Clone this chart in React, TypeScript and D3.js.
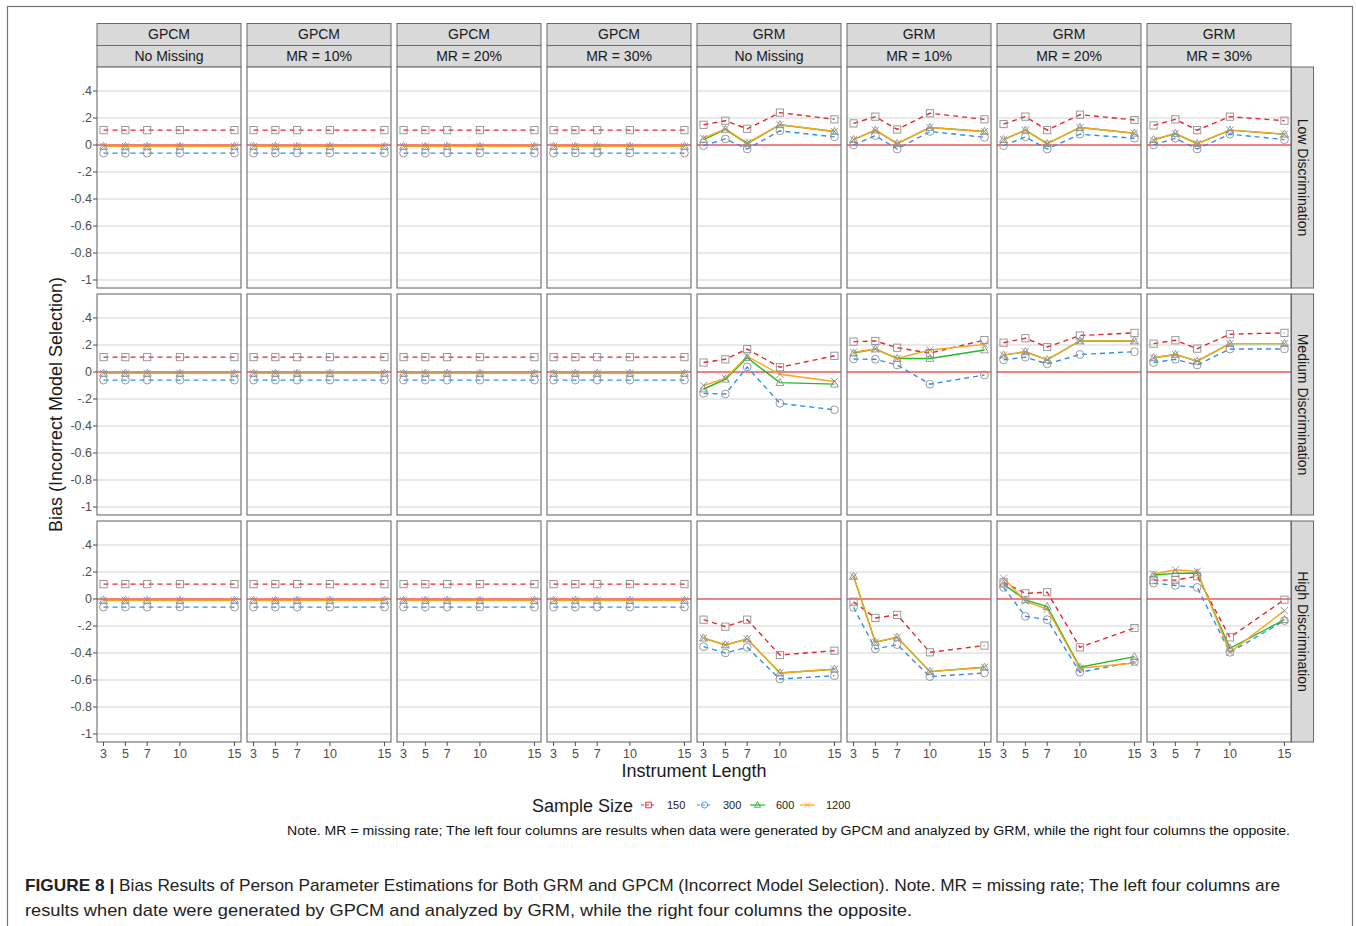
import React from 'react';
import * as d3 from 'd3';

const lengths = [3, 5, 7, 10, 15];
const sampleSizes = ['150', '300', '600', '1200'];
const sizeColors = ['#e3262b', '#2f8ff0', '#22bb22', '#ffa31a'];
const sizeDashed = [true, true, false, false];
const generators = ['GPCM', 'GPCM', 'GPCM', 'GPCM', 'GRM', 'GRM', 'GRM', 'GRM'];
const missingLabels = ['No Missing', 'MR = 10%', 'MR = 20%', 'MR = 30%', 'No Missing', 'MR = 10%', 'MR = 20%', 'MR = 30%'];
const discrimLabels = ['Low Discrimination', 'Medium Discrimination', 'High Discrimination'];
const yTicks = [0.4, 0.2, 0, -0.2, -0.4, -0.6, -0.8, -1];
const yTickLabels = ['.4', '.2', '0', '-.2', '-0.4', '-0.6', '-0.8', '-1'];

// data generated by GPCM, analysed by GRM (same in every row)
const gpcm150 = [0.11, 0.11, 0.11, 0.11, 0.11];
const gpcm300 = [-0.06, -0.06, -0.06, -0.06, -0.06];
const gpcm600 = [-0.01, -0.01, -0.01, -0.01, -0.01];
const gpcm1200 = [-0.01, -0.01, -0.01, -0.01, -0.01];
const gpcmSeries = [gpcm150, gpcm300, gpcm600, gpcm1200];

// data generated by GRM, analysed by GPCM: [150, 300, 600, 1200]
const grmLowNoMiss = [
  [0.15, 0.18, 0.12, 0.24, 0.19],
  [-0.005, 0.045, -0.03, 0.105, 0.06],
  [0.04, 0.115, 0.01, 0.15, 0.1],
  [0.05, 0.12, 0.015, 0.15, 0.1],
];
const grmLowMR10 = [
  [0.16, 0.21, 0.115, 0.235, 0.19],
  [0.0, 0.07, -0.03, 0.1, 0.057],
  [0.04, 0.11, 0.01, 0.13, 0.1],
  [0.04, 0.11, 0.01, 0.13, 0.1],
];
const grmLowMR20 = [
  [0.155, 0.21, 0.11, 0.225, 0.185],
  [-0.005, 0.06, -0.03, 0.08, 0.05],
  [0.04, 0.11, 0.01, 0.13, 0.087],
  [0.04, 0.11, 0.01, 0.13, 0.087],
];
const grmLowMR30 = [
  [0.145, 0.19, 0.11, 0.21, 0.18],
  [0.0, 0.05, -0.03, 0.08, 0.04],
  [0.04, 0.085, 0.01, 0.11, 0.08],
  [0.035, 0.085, 0.01, 0.11, 0.08],
];
const grmMedNoMiss = [
  [0.07, 0.094, 0.17, 0.035, 0.12],
  [-0.158, -0.163, 0.037, -0.232, -0.28],
  [-0.126, -0.054, 0.106, -0.079, -0.09],
  [-0.1, -0.047, 0.116, -0.017, -0.07],
];
const grmMedMR10 = [
  [0.225, 0.23, 0.18, 0.14, 0.237],
  [0.096, 0.094, 0.052, -0.09, -0.022],
  [0.14, 0.17, 0.1, 0.1, 0.163],
  [0.146, 0.17, 0.1, 0.163, 0.205],
];
const grmMedMR20 = [
  [0.217, 0.25, 0.185, 0.27, 0.29],
  [0.09, 0.11, 0.06, 0.13, 0.15],
  [0.125, 0.15, 0.09, 0.23, 0.23],
  [0.125, 0.15, 0.09, 0.23, 0.23],
];
const grmMedMR30 = [
  [0.21, 0.235, 0.173, 0.28, 0.29],
  [0.07, 0.094, 0.052, 0.17, 0.17],
  [0.106, 0.13, 0.08, 0.21, 0.21],
  [0.106, 0.13, 0.08, 0.21, 0.21],
];
const grmHighNoMiss = [
  [-0.153, -0.205, -0.153, -0.415, -0.383],
  [-0.353, -0.4, -0.358, -0.593, -0.568],
  [-0.29, -0.34, -0.296, -0.548, -0.52],
  [-0.29, -0.34, -0.296, -0.548, -0.52],
];
const grmHighMR10 = [
  [-0.02, -0.14, -0.118, -0.395, -0.345],
  [-0.062, -0.37, -0.338, -0.575, -0.548],
  [0.168, -0.32, -0.284, -0.538, -0.506],
  [0.168, -0.32, -0.284, -0.538, -0.506],
];
const grmHighMR20 = [
  [0.123, 0.042, 0.05, -0.358, -0.215],
  [0.086, -0.128, -0.153, -0.543, -0.464],
  [0.11, -0.007, -0.057, -0.506, -0.427],
  [0.155, -0.017, -0.074, -0.513, -0.474],
];
const grmHighMR30 = [
  [0.14, 0.14, 0.168, -0.284, -0.005],
  [0.118, 0.1, 0.086, -0.395, -0.16],
  [0.178, 0.19, 0.193, -0.365, -0.153],
  [0.185, 0.217, 0.205, -0.395, -0.086],
];

const grmRows = [
  [grmLowNoMiss, grmLowMR10, grmLowMR20, grmLowMR30],
  [grmMedNoMiss, grmMedMR10, grmMedMR20, grmMedMR30],
  [grmHighNoMiss, grmHighMR10, grmHighMR20, grmHighMR30],
];

const FONT = '"Liberation Sans", Arial, sans-serif';
const PANEL_W = 144;
const PANEL_H = 221;
const LEFT0 = 97;
const TOP0 = 67;
const COL_STEP = 150;
const ROW_STEP = 227;
const POINT_GRAY = '#8f8f8f';

function Shape({ kind, x, y, color, r = 3.6 }) {
  if (kind === 0) {
    return <rect x={x - r} y={y - r} width={r * 2} height={r * 2} fill="none" stroke={color} strokeWidth={0.9} />;
  }
  if (kind === 1) {
    return <circle cx={x} cy={y} r={r + 0.3} fill="none" stroke={color} strokeWidth={0.9} />;
  }
  if (kind === 2) {
    const p = d3.path();
    p.moveTo(x, y - r * 1.15);
    p.lineTo(x + r * 1.1, y + r * 0.8);
    p.lineTo(x - r * 1.1, y + r * 0.8);
    p.closePath();
    return <path d={p.toString()} fill="none" stroke={color} strokeWidth={0.9} />;
  }
  const p = d3.path();
  p.moveTo(x - r, y - r);
  p.lineTo(x + r, y + r);
  p.moveTo(x - r, y + r);
  p.lineTo(x + r, y - r);
  return <path d={p.toString()} fill="none" stroke={color} strokeWidth={0.9} />;
}

function Panel({ row, col }) {
  const left = LEFT0 + col * COL_STEP;
  const top = TOP0 + row * ROW_STEP;
  const x = d3.scaleLinear().domain([2.4, 15.6]).range([left, left + PANEL_W]);
  const y = d3.scaleLinear().domain([-1.0593, 0.5778]).range([top + PANEL_H, top]);
  const series = col < 4 ? gpcmSeries : grmRows[row][col - 4];
  const line = d3.line<number>().x((_, i) => x(lengths[i])).y((d) => y(d));

  return (
    <g>
      <rect x={left} y={top} width={PANEL_W} height={PANEL_H} fill="#fff" />
      {yTicks.map((t) => (
        <line key={t} x1={left} x2={left + PANEL_W} y1={y(t)} y2={y(t)} stroke="#d3d3d3" strokeWidth={1.1} />
      ))}
      <line x1={left} x2={left + PANEL_W} y1={y(0)} y2={y(0)} stroke="#ff1a1a" strokeWidth={1.2} />
      {series.map((vals, s) => (
        <path
          key={s}
          d={line(vals) || ''}
          fill="none"
          stroke={sizeColors[s]}
          strokeWidth={1.4}
          strokeDasharray={sizeDashed[s] ? '5,4' : undefined}
        />
      ))}
      {series.map((vals, s) =>
        vals.map((v, i) => <Shape key={`${s}-${i}`} kind={s} x={x(lengths[i])} y={y(v)} color={POINT_GRAY} />)
      )}
      <rect x={left} y={top} width={PANEL_W} height={PANEL_H} fill="none" stroke="#6b6b6b" strokeWidth={1.1} />
      {col === 0 &&
        yTicks.map((t, i) => (
          <g key={t}>
            <line x1={left - 4} x2={left} y1={y(t)} y2={y(t)} stroke="#4d4d4d" />
            <text x={left - 5} y={y(t)} dy="0.35em" textAnchor="end" fontSize={12.5} fill="#4d4d4d">
              {yTickLabels[i]}
            </text>
          </g>
        ))}
      {row === 2 &&
        lengths.map((l) => (
          <g key={l}>
            <line x1={x(l)} x2={x(l)} y1={top + PANEL_H} y2={top + PANEL_H + 4} stroke="#4d4d4d" />
            <text x={x(l)} y={top + PANEL_H + 16} textAnchor="middle" fontSize={12.5} fill="#4d4d4d">
              {l}
            </text>
          </g>
        ))}
    </g>
  );
}

function LegendKey({ s, x0, label }) {
  const yk = 805;
  return (
    <g>
      <line
        x1={x0}
        x2={x0 + 15}
        y1={yk}
        y2={yk}
        stroke={sizeColors[s]}
        strokeWidth={1.2}
        strokeDasharray={sizeDashed[s] ? '3,2' : undefined}
      />
      <Shape kind={s} x={x0 + 7.5} y={yk} color={sizeColors[s]} r={2.8} />
      <text x={x0 + 26} y={yk} dy="0.35em" fontSize={11} fill="#222">
        {label}
      </text>
    </g>
  );
}

export default function App() {
  const rows = [0, 1, 2];
  const cols = d3.range(8);
  const legendX = [641, 697, 750, 800];

  return (
    <svg
      width={1356}
      height={926}
      style={{ display: 'block', position: 'absolute', left: 0, top: 0, fontFamily: FONT }}
    >
      <rect x={0} y={0} width={1356} height={926} fill="#fff" />
      <rect x={7.5} y={6.5} width={1345} height={940} fill="none" stroke="#777" strokeWidth={1.2} />
      {/* column strips */}
      {cols.map((c) => {
        const left = LEFT0 + c * COL_STEP;
        return (
          <g key={c}>
            <rect x={left} y={23.5} width={PANEL_W} height={22} fill="#d9d9d9" stroke="#6b6b6b" strokeWidth={1} />
            <rect x={left} y={45.5} width={PANEL_W} height={21.5} fill="#d9d9d9" stroke="#6b6b6b" strokeWidth={1} />
            <text x={left + PANEL_W / 2} y={34.5} dy="0.35em" textAnchor="middle" fontSize={14} fill="#1a1a1a">
              {generators[c]}
            </text>
            <text x={left + PANEL_W / 2} y={56.5} dy="0.35em" textAnchor="middle" fontSize={14} fill="#1a1a1a">
              {missingLabels[c]}
            </text>
          </g>
        );
      })}
      {/* row strips */}
      {rows.map((r) => {
        const top = TOP0 + r * ROW_STEP;
        const cx = 1302.5;
        const cy = top + PANEL_H / 2;
        return (
          <g key={r}>
            <rect x={1291.5} y={top} width={22} height={PANEL_H} fill="#d9d9d9" stroke="#6b6b6b" strokeWidth={1} />
            <text
              x={cx}
              y={cy}
              dy="0.35em"
              textAnchor="middle"
              fontSize={14}
              fill="#1a1a1a"
              transform={`rotate(90,${cx},${cy})`}
            >
              {discrimLabels[r]}
            </text>
          </g>
        );
      })}
      {rows.map((r) => cols.map((c) => <Panel key={`${r}-${c}`} row={r} col={c} />))}

      <text
        x={56}
        y={404.5}
        dy="0.35em"
        textAnchor="middle"
        fontSize={18}
        fill="#1a1a1a"
        transform="rotate(-90,56,404.5)"
      >
        Bias (Incorrect Model Selection)
      </text>
      <text x={694} y={777} textAnchor="middle" fontSize={18} fill="#1a1a1a">
        Instrument Length
      </text>

      <text x={532} y={812} fontSize={18} fill="#1a1a1a">
        Sample Size
      </text>
      {sampleSizes.map((s, i) => (
        <LegendKey key={s} s={i} x0={legendX[i]} label={s} />
      ))}

      <text x={287} y={835} fontSize={12.5} fill="#111" textLength={1003} lengthAdjust="spacingAndGlyphs">
        Note. MR = missing rate; The left four columns are results when data were generated by GPCM and analyzed by GRM, while the right four columns the opposite.
      </text>

      <text x={25} y={891} fontSize={17} fill="#222" textLength={1255} lengthAdjust="spacingAndGlyphs">
        <tspan fontWeight="bold">FIGURE 8 | </tspan>
        Bias Results of Person Parameter Estimations for Both GRM and GPCM (Incorrect Model Selection). Note. MR = missing rate; The left four columns are
      </text>
      <text x={25} y={916} fontSize={17} fill="#222" textLength={887} lengthAdjust="spacingAndGlyphs">
        results when date were generated by GPCM and analyzed by GRM, while the right four columns the opposite.
      </text>
    </svg>
  );
}
